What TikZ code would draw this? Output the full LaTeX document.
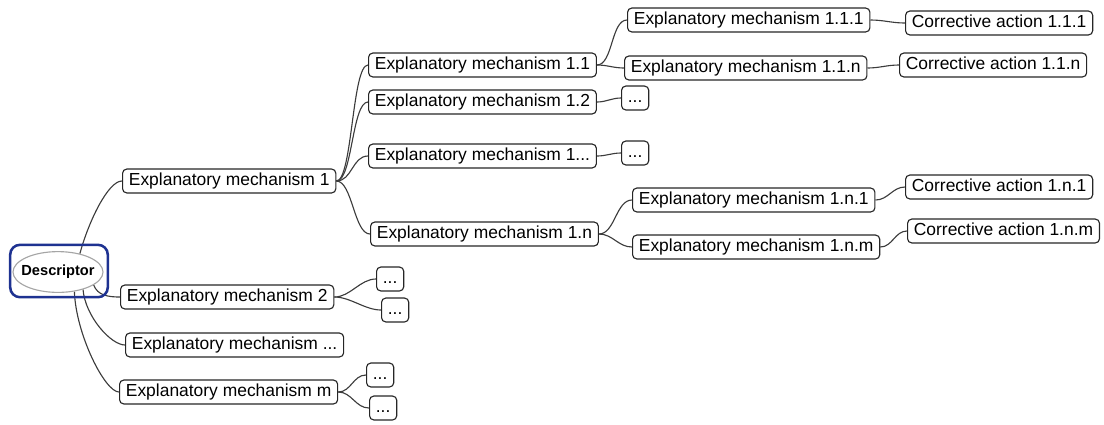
\documentclass[tikz,border=0pt]{standalone}
\usepackage{fontspec}
\setmainfont{Liberation Sans}
\usetikzlibrary{shapes.geometric, positioning, calc, backgrounds}
\definecolor{descblue}{RGB}{30, 50, 145}
\definecolor{linegray}{RGB}{60, 60, 60}
\definecolor{ovalgray}{RGB}{165, 165, 165}

\begin{document}
\begin{tikzpicture}[x=0.025cm, y=-0.025cm,
  topic/.style={draw=black!85, line width=0.8pt, rounded corners=3pt, fill=white, anchor=west,
    minimum height=17pt, inner xsep=4.5pt, inner ysep=0pt, text height=9pt, text depth=2.6pt,
    font=\fontsize{12.4}{14}\selectfont},
  link/.style={draw=linegray, line width=0.8pt, out=0, in=180, max distance=0.4cm},
  desclink/.style={link, out max distance=2cm, in max distance=0.35cm}]
  \useasboundingbox (0,0) rectangle (1104,424);

  % Descriptor
  \node[draw=descblue, line width=1.8pt, rounded corners=7pt, minimum width=2.44cm, minimum height=1.31cm] (desc) at (59,271) {};
  \node[ellipse, draw=ovalgray, line width=0.8pt, fill=white, inner xsep=-8pt, inner ysep=3pt,
    minimum width=64pt, minimum height=29pt, font=\bfseries\fontsize{10.4}{12}\selectfont] (ell) at (58,272) {Descriptor};

  % First level
  \node[topic] (em1) at (122,181) {Explanatory mechanism 1};
  \node[topic] (em2) at (120,297) {Explanatory mechanism 2};
  \node[topic] (em3) at (125,345) {Explanatory mechanism ...};
  \node[topic] (emm) at (119,392) {Explanatory mechanism m};

  % Second level
  \node[topic] (em11) at (368,65) {Explanatory mechanism 1.1};
  \node[topic] (em12) at (368,102) {Explanatory mechanism 1.2};
  \node[topic] (em13) at (368,156) {Explanatory mechanism 1...};
  \node[topic] (em1n) at (370,234) {Explanatory mechanism 1.n};
  \node[topic] (d21) at (376,279) {...};
  \node[topic] (d22) at (381,310) {...};
  \node[topic] (dm1) at (366,375) {...};
  \node[topic] (dm2) at (369,408) {...};

  % Third level
  \node[topic] (em111) at (627,20) {Explanatory mechanism 1.1.1};
  \node[topic] (em11n) at (624,68) {Explanatory mechanism 1.1.n};
  \node[topic] (d12) at (621,98) {...};
  \node[topic] (d13) at (621,153) {...};
  \node[topic] (em1n1) at (632,200) {Explanatory mechanism 1.n.1};
  \node[topic] (em1nm) at (632,247) {Explanatory mechanism 1.n.m};

  % Corrective actions
  \node[topic] (ca111) at (905,23) {Corrective action 1.1.1};
  \node[topic] (ca11n) at (899,65) {Corrective action 1.1.n};
  \node[topic] (ca1n1) at (905,187) {Corrective action 1.n.1};
  \node[topic] (ca1nm) at (907,231) {Corrective action 1.n.m};

  % Connectors
  \begin{pgfonlayer}{background}
    \draw[desclink, out=75] (ell.40) to (em1.west);
    \draw[desclink, out=-70] (ell.-20) to (em2.west);
    \draw[desclink, out=-85] (ell.-35) to (em3.west);
    \draw[desclink, out=-88] (ell.-50) to (emm.west);

    \foreach \a/\b in {em1/em11, em1/em12, em1/em13, em1/em1n, em2/d21, em2/d22, emm/dm1, emm/dm2,
      em11/em111, em11/em11n, em12/d12, em13/d13, em1n/em1n1, em1n/em1nm,
      em111/ca111, em11n/ca11n, em1n1/ca1n1, em1nm/ca1nm}
      \draw[link] (\a.east) to (\b.west);
  \end{pgfonlayer}
\end{tikzpicture}
\end{document}
